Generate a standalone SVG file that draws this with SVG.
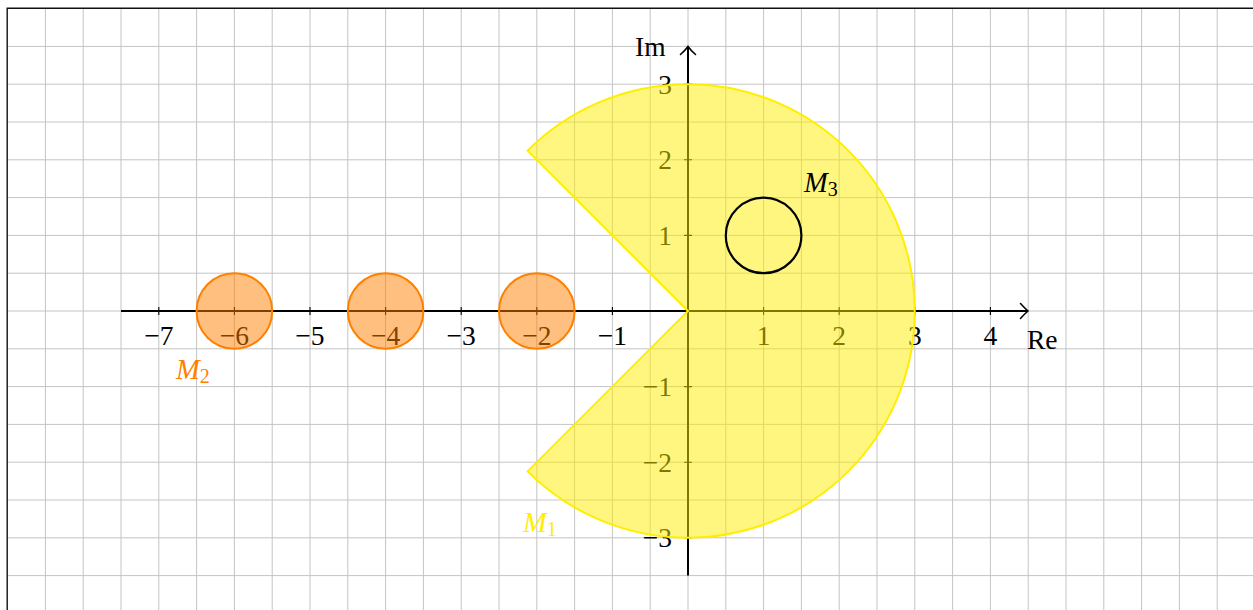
<svg xmlns="http://www.w3.org/2000/svg" width="1253" height="610" viewBox="0 0 1253 610">
<style>
.grid{stroke:#c4c4c4;stroke-width:1;fill:none}
.axis{stroke:#000;stroke-width:2;fill:none}
.tick{stroke:#000;stroke-width:1.1;fill:none}
.lbl{font-family:"Liberation Serif","DejaVu Serif",serif;font-size:27.5px;fill:#000}
.xl{text-anchor:middle}
.yl{text-anchor:end}
.m{font-family:"Liberation Serif","DejaVu Serif",serif;font-size:28.5px;font-style:italic}
.sub{font-size:20px;font-style:normal}
.orange{fill:#ff8000;fill-opacity:0.5;stroke:#ff8000;stroke-width:2}
</style>
<rect x="0" y="0" width="1253" height="610" fill="#fff"/>
<g id="grid">
<path class="grid" d="M45.4,8.6V610M83.2,8.6V610M121,8.6V610M158.8,8.6V610M196.6,8.6V610M234.4,8.6V610M272.2,8.6V610M310,8.6V610M347.8,8.6V610M385.6,8.6V610M423.4,8.6V610M461.2,8.6V610M499,8.6V610M536.8,8.6V610M574.6,8.6V610M612.4,8.6V610M650.2,8.6V610M688,8.6V610M725.8,8.6V610M763.6,8.6V610M801.4,8.6V610M839.2,8.6V610M877,8.6V610M914.8,8.6V610M952.6,8.6V610M990.4,8.6V610M1028.2,8.6V610M1066,8.6V610M1103.8,8.6V610M1141.6,8.6V610M1179.4,8.6V610M1217.2,8.6V610"/>
<path class="grid" d="M7.6,46.4H1253M7.6,84.2H1253M7.6,122H1253M7.6,159.8H1253M7.6,197.6H1253M7.6,235.4H1253M7.6,273.2H1253M7.6,311H1253M7.6,348.8H1253M7.6,386.6H1253M7.6,424.4H1253M7.6,462.2H1253M7.6,500H1253M7.6,537.8H1253M7.6,575.6H1253"/>
<path d="M7.2,610V8.2H1253" fill="none" stroke="#111" stroke-width="1.4"/>
</g>
<g id="connectors">
<path class="axis" d="M121,311H1027"/>
<path class="axis" d="M688,575.6V47.5"/>
<path d="M1020.5,303.5Q1025,308.5 1028,311Q1025,313.5 1020.5,318.5" fill="none" stroke="#000" stroke-width="1.6" stroke-linecap="round"/>
<path d="M680.5,54.5Q685.5,50 688,46.5Q690.5,50 695.5,54.5" fill="none" stroke="#000" stroke-width="1.6" stroke-linecap="round"/>
<path class="tick" d="M158.8,307V315M234.4,307V315M310,307V315M385.6,307V315M461.2,307V315M536.8,307V315M612.4,307V315M763.6,307V315M839.2,307V315M914.8,307V315M990.4,307V315"/>
<path class="tick" d="M684,84.2H692M684,159.8H692M684,235.4H692M684,386.6H692M684,462.2H692M684,537.8H692"/>
</g>
<g id="ticklabels" class="lbl">
<text class="xl" x="158.8" y="344.5">−7</text>
<text class="xl" x="234.4" y="344.5">−6</text>
<text class="xl" x="310" y="344.5">−5</text>
<text class="xl" x="385.6" y="344.5">−4</text>
<text class="xl" x="461.2" y="344.5">−3</text>
<text class="xl" x="536.8" y="344.5">−2</text>
<text class="xl" x="612.4" y="344.5">−1</text>
<text class="xl" x="763.6" y="344.5">1</text>
<text class="xl" x="839.2" y="344.5">2</text>
<text class="xl" x="914.8" y="344.5">3</text>
<text class="xl" x="990.4" y="344.5">4</text>
<text class="yl" x="672" y="93.6">3</text>
<text class="yl" x="672" y="169.2">2</text>
<text class="yl" x="672" y="244.8">1</text>
<text class="yl" x="672" y="396">−1</text>
<text class="yl" x="672" y="471.6">−2</text>
<text class="yl" x="672" y="547.2">−3</text>
<text x="1027" y="348.5">Re</text>
<text x="635" y="55.5">Im</text>
</g>
<g id="M1">
<path d="M688,311L527.6,150.6A226.8,226.8 0 1 1 527.6,471.4Z" fill="#ffee00" fill-opacity="0.5" stroke="#ffee00" stroke-width="2" stroke-linejoin="miter"/>
<text class="m" x="523" y="532" fill="#ffee00">M<tspan class="sub" dy="4">1</tspan></text>
</g>
<g id="M2">
<circle class="orange" cx="234.4" cy="311" r="37.8"/>
<circle class="orange" cx="385.6" cy="311" r="37.8"/>
<circle class="orange" cx="536.8" cy="311" r="37.8"/>
<text class="m" x="176" y="378.5" fill="#ff8000">M<tspan class="sub" dy="4">2</tspan></text>
</g>
<g id="M3">
<circle cx="763.6" cy="235.4" r="37.8" fill="none" stroke="#000" stroke-width="2.2"/>
<text class="m" x="804" y="192" fill="#000">M<tspan class="sub" dy="4">3</tspan></text>
</g>
</svg>
